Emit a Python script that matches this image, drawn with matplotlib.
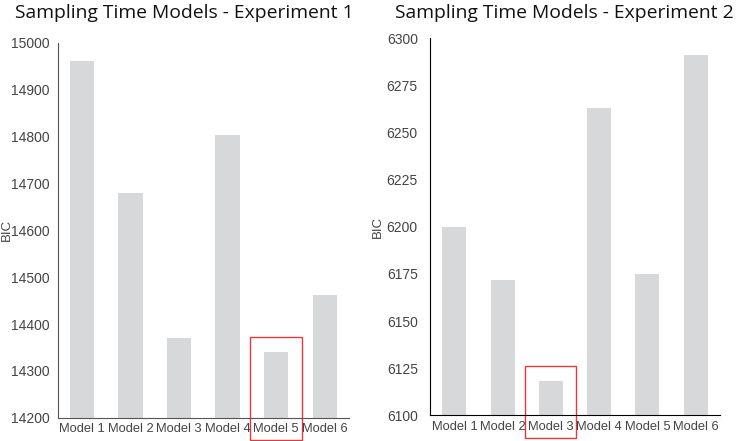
import matplotlib
matplotlib.use("Agg")
import matplotlib.pyplot as plt
from matplotlib.patches import Rectangle

models = ["Model 1", "Model 2", "Model 3", "Model 4", "Model 5", "Model 6"]
bic_exp1 = [14961, 14679, 14371, 14804, 14341, 14462]
bic_exp2 = [6200, 6172, 6118, 6263, 6175, 6291]
best_exp1 = 4
best_exp2 = 2

bar_color = "#d7d8da"
tick_font = "Liberation Sans"
title_font = "Open Sans"

fig = plt.figure(figsize=(7.43, 4.41), dpi=100)
ax1 = fig.add_axes([0.0777, 0.0528, 0.392, 0.8497])
ax2 = fig.add_axes([0.5791, 0.0583, 0.3896, 0.8549])


def style(ax, vals, ylim, step, title, title_x, best, spine_col, pad, ylab_x):
    x = range(len(vals))
    ax.bar(x, vals, width=0.5, color=bar_color)
    ax.set_xlim(-0.5, 5.5)
    ax.set_ylim(*ylim)
    ax.set_yticks(range(ylim[0], ylim[1] + 1, step))
    ax.set_xticks(list(x))
    ax.set_xticklabels(models)
    for s in ["top", "right"]:
        ax.spines[s].set_visible(False)
    ax.spines["left"].set_color(spine_col)
    ax.spines["bottom"].set_color(spine_col)
    ax.tick_params(axis="both", length=0, colors="#444444")
    ax.tick_params(axis="y", pad=pad, labelsize=10)
    ax.tick_params(axis="x", pad=4, labelsize=9.3)
    for lab in ax.get_xticklabels() + ax.get_yticklabels():
        lab.set_fontfamily(tick_font)
    ax.set_ylabel("BIC", fontsize=9.5, color="#444444", fontfamily=tick_font)
    ax.yaxis.set_label_coords(ylab_x, 0.5)
    fig.text(title_x, 0.97, title, fontsize=13.9, fontfamily=title_font,
             color="#111111", va="center", ha="left")
    # red box round the best model
    span = ylim[1] - ylim[0]
    bot = ylim[0] - span * 0.06
    top = vals[best] + span * 0.04
    ax.add_patch(Rectangle((best - 0.53, bot), 1.06, top - bot, fill=False,
                           edgecolor="#e8383d", linewidth=1.0, clip_on=False))


style(ax1, bic_exp1, (14200, 15000), 100, "Sampling Time Models - Experiment 1",
      0.02, best_exp1, "#555555", 6, -0.155)
style(ax2, bic_exp2, (6100, 6300), 25, "Sampling Time Models - Experiment 2",
      0.532, best_exp2, "#000000", 9, -0.16)

fig.savefig("out.png", dpi=100)
